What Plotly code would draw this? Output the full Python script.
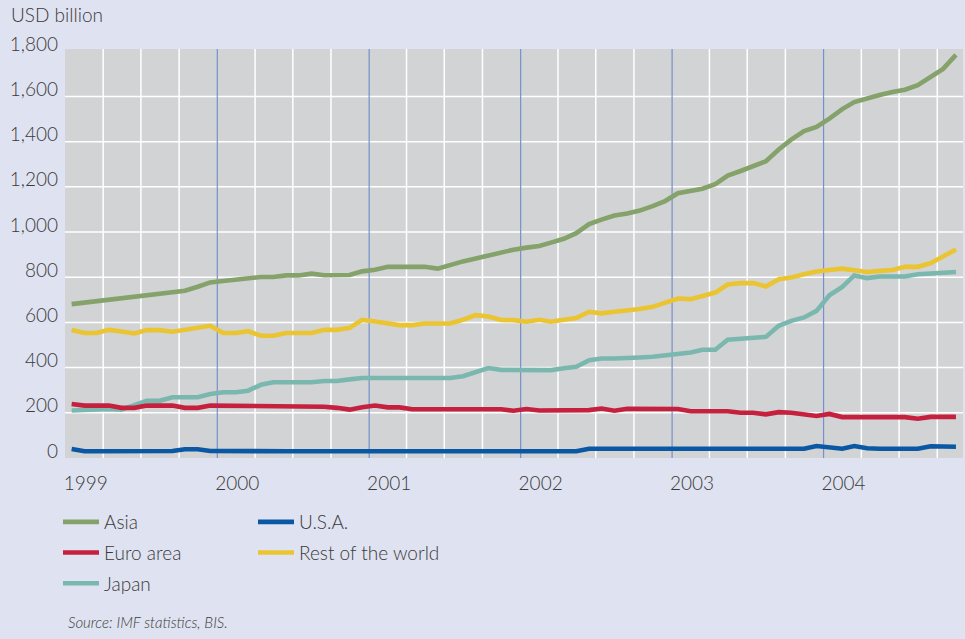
import plotly.graph_objects as go

# ---------------- data (USD billion, monthly, Jan 1999 - Nov 2004) ----------------
months = [f"{y}-{m:02d}-15" for y in range(1999, 2005) for m in range(1, 13)][:71]

asia = [681, 688, 695, 702, 709, 716, 723, 731, 738, 740,
        758, 777, 783, 789, 795, 801, 801, 808, 808, 816,
        809, 809, 810, 826, 833, 846, 846, 846, 846, 838,
        856, 870, 883, 897, 910, 922, 931, 938, 953, 970,
        995, 1035, 1055, 1073, 1082, 1095, 1115, 1137, 1172, 1181,
        1192, 1212, 1250, 1270, 1292, 1313, 1365, 1409, 1447, 1465,
        1502, 1544, 1575, 1592, 1606, 1620, 1630, 1650, 1685, 1722,
        1784]

rest_of_world = [566, 553, 553, 567, 560, 551, 566, 566, 559, 566,
                 576, 585, 553, 553, 561, 541, 541, 553, 553, 553,
                 567, 567, 576, 611, 604, 597, 588, 588, 595, 595,
                 595, 612, 632, 626, 611, 610, 603, 612, 603, 612,
                 619, 647, 640, 647, 651, 659, 669, 688, 706, 703,
                 716, 732, 768, 774, 774, 759, 791, 799, 813, 825,
                 832, 838, 831, 823, 828, 832, 846, 846, 862, 894,
                 923]

japan = [210, 214, 216, 217, 214, 232, 253, 253, 269, 269,
         269, 283, 291, 291, 298, 324, 335, 335, 335, 335,
         341, 341, 348, 354, 354, 354, 354, 354, 354, 354,
         354, 362, 383, 398, 390, 389, 389, 389, 389, 397,
         404, 433, 440, 440, 445, 445, 448, 454, 460, 467,
         479, 479, 523, 528, 533, 536, 585, 607, 622, 651,
         720, 757, 808, 796, 803, 803, 803, 813, 818, 818,
         823]

euro_area = [239, 232, 232, 232, 222, 222, 232, 232, 232, 222,
             222, 232, 232, 232, 232, 232, 232, 232, 232, 232,
             227, 222, 214, 225, 232, 224, 224, 216, 216, 216,
             216, 216, 216, 216, 216, 209, 217, 210, 210, 210,
             210, 212, 219, 209, 218, 218, 218, 218, 217, 207,
             207, 207, 207, 200, 200, 193, 203, 200, 192, 186,
             195, 181, 181, 181, 181, 181, 181, 174, 182, 182,
             182]

usa = [40, 30, 30, 30, 30, 30, 30, 30, 31, 39,
       39, 31, 30, 30, 30, 30, 30, 30, 30, 30,
       30, 30, 30, 30, 30, 30, 30, 30, 30, 30,
       30, 30, 30, 30, 30, 30, 30, 30, 30, 30,
       30, 41, 41, 41, 41, 41, 41, 41, 41, 41,
       41, 41, 41, 41, 41, 41, 41, 41, 41, 53,
       49, 41, 53, 43, 41, 41, 41, 41, 52, 50,
       50]

year_labels = ["1999", "2000", "2001", "2002", "2003", "2004"]
y_ticks = [0, 200, 400, 600, 800, 1000, 1200, 1400, 1600, 1800]

# ---------------- styling ----------------
W, H = 965, 639
ML, MR, MT, MB = 65, 2, 49, 181
PW, PH = W - ML - MR, H - MT - MB
FONT = "Lato"
TXT = "#3a3a3a"
PAPER = "#dfe2f0"
PLOT = "#d2d3d5"
GRID_BLUE = "#7590cc"

def px_x(px):
    return (px - ML) / PW

def px_y(py):
    return (H - MB - py) / PH

def fnt(size):
    return dict(size=size, color=TXT, family=FONT, weight=300)

series = [
    # name, values, colour, legend, rank
    ("Japan", japan, "#7ab8af", "legend", 3),
    ("Euro area", euro_area, "#c5213f", "legend", 2),
    ("U.S.A.", usa, "#0a58a3", "legend2", 1),
    ("Rest of the world", rest_of_world, "#eac431", "legend2", 2),
    ("Asia", asia, "#84a26a", "legend", 1),
]

fig = go.Figure()
for name, vals, col, leg, rank in series:
    fig.add_trace(go.Scatter(
        x=months, y=vals, name=name, mode="lines",
        line=dict(color=col, width=4.6),
        legend=leg, legendrank=rank, legendgroup=name,
    ))

shapes = []
# white quarterly gridlines
for y in range(1999, 2005):
    for m in (4, 7, 10):
        shapes.append(dict(type="line", xref="x", yref="paper",
                           x0=f"{y}-{m:02d}-01", x1=f"{y}-{m:02d}-01", y0=0, y1=1,
                           line=dict(color="white", width=1.5), layer="below"))
# white horizontal gridlines
for v in y_ticks[1:-1]:
    shapes.append(dict(type="line", xref="paper", yref="y", x0=0, x1=1, y0=v, y1=v,
                       line=dict(color="white", width=1.5), layer="below"))
# blue year lines
for y in year_labels[1:]:
    shapes.append(dict(type="line", xref="x", yref="paper",
                       x0=f"{y}-01-01", x1=f"{y}-01-01", y0=0, y1=1,
                       line=dict(color=GRID_BLUE, width=1.2), layer="below"))

fig.update_layout(
    width=W, height=H,
    margin=dict(l=ML, r=MR, t=MT, b=MB, pad=0),
    paper_bgcolor=PAPER, plot_bgcolor=PLOT,
    font=fnt(19),
    shapes=shapes,
    xaxis=dict(
        type="date", range=["1998-12-30", "2004-12-02"],
        tickmode="array", tickvals=[f"{y}-01-01" for y in year_labels], ticktext=year_labels,
        showgrid=False, zeroline=False, showline=False, ticks="",
        ticklabelshift=20, ticklabelstandoff=12,
        tickfont=fnt(19),
    ),
    yaxis=dict(
        range=[0, 1810], tickmode="array", tickvals=y_ticks, tickformat=",d",
        showgrid=False, zeroline=False, showline=False, ticks="",
        ticklabelshift=-7, ticklabelstandoff=6,
        tickfont=fnt(19),
    ),
    legend=dict(
        orientation="v", x=px_x(58), y=px_y(503), xanchor="left", yanchor="top",
        bgcolor="rgba(0,0,0,0)", borderwidth=0, tracegroupgap=3, itemwidth=36,
        font=fnt(19),
    ),
    legend2=dict(
        orientation="v", x=px_x(253), y=px_y(503), xanchor="left", yanchor="top",
        bgcolor="rgba(0,0,0,0)", borderwidth=0, tracegroupgap=3, itemwidth=36,
        font=fnt(19),
    ),
    annotations=[
        dict(text="USD billion", xref="paper", yref="paper", x=px_x(9), y=px_y(15),
             xanchor="left", yanchor="middle", showarrow=False, font=fnt(19)),
        dict(text="<i>Source: IMF statistics, BIS.</i>", xref="paper", yref="paper",
             x=px_x(66), y=px_y(622), xanchor="left", yanchor="middle", showarrow=False,
             font=fnt(15)),
    ],
    showlegend=True,
)

fig.write_html(
    "out.html",
    config={"displayModeBar": False},
    post_script="document.body.style.margin='0';document.body.style.padding='0';",
)
